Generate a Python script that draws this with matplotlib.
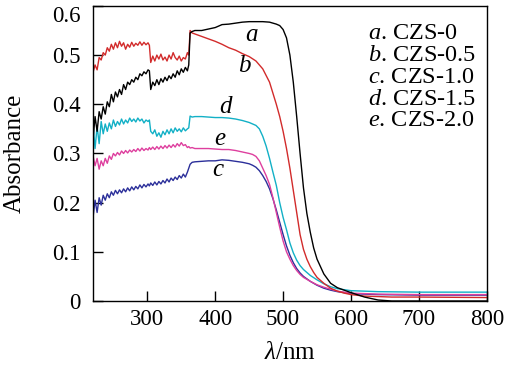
import matplotlib
matplotlib.use("Agg")
import matplotlib.pyplot as plt

plt.rcParams['font.family'] = ['Liberation Serif', 'DejaVu Serif']
plt.rcParams['mathtext.fontset'] = 'custom'
plt.rcParams['mathtext.rm'] = 'Liberation Serif'
plt.rcParams['mathtext.it'] = 'Liberation Serif:italic'

# ---------------- data ----------------
wl_uv = [220, 223, 226, 229, 232, 235, 238, 241, 244, 247, 250, 253, 256, 259, 262, 265, 268, 271,
         274, 277, 280, 283, 286, 289, 292, 295, 298, 301, 303, 305, 308, 311, 314, 317, 320, 323,
         326, 329, 332, 335, 338, 341, 344, 347, 350, 353, 356, 359, 361, 363, 366, 370]

a_uv = [0.330, 0.375, 0.345, 0.385, 0.370, 0.395, 0.380, 0.405, 0.395, 0.420, 0.405, 0.425, 0.415,
        0.430, 0.420, 0.440, 0.430, 0.445, 0.440, 0.450, 0.445, 0.455, 0.450, 0.462, 0.458, 0.466,
        0.462, 0.470, 0.468, 0.430, 0.445, 0.438, 0.450, 0.440, 0.452, 0.445, 0.455, 0.448, 0.458,
        0.452, 0.462, 0.455, 0.468, 0.460, 0.472, 0.465, 0.475, 0.468, 0.480, 0.545, 0.548, 0.550]
b_uv = [0.465, 0.480, 0.470, 0.495, 0.490, 0.505, 0.500, 0.515, 0.508, 0.522, 0.512, 0.525, 0.515,
        0.528, 0.518, 0.525, 0.512, 0.522, 0.516, 0.526, 0.518, 0.524, 0.520, 0.527, 0.520, 0.526,
        0.521, 0.525, 0.520, 0.485, 0.498, 0.488, 0.500, 0.492, 0.502, 0.490, 0.496, 0.488, 0.500,
        0.492, 0.505, 0.495, 0.490, 0.498, 0.488, 0.495, 0.492, 0.505, 0.500, 0.550, 0.545, 0.543]
c_uv = [0.170, 0.205, 0.180, 0.210, 0.195, 0.215, 0.205, 0.218, 0.210, 0.222, 0.215, 0.225, 0.218,
        0.226, 0.220, 0.228, 0.222, 0.230, 0.224, 0.232, 0.226, 0.233, 0.228, 0.236, 0.230, 0.237,
        0.232, 0.238, 0.234, 0.240, 0.235, 0.242, 0.236, 0.243, 0.238, 0.245, 0.240, 0.248, 0.242,
        0.250, 0.245, 0.252, 0.247, 0.255, 0.250, 0.258, 0.252, 0.262, 0.270, 0.278, 0.282, 0.283]
d_uv = [0.360, 0.310, 0.355, 0.320, 0.365, 0.340, 0.360, 0.345, 0.362, 0.350, 0.368, 0.355, 0.365,
        0.358, 0.370, 0.360, 0.368, 0.362, 0.372, 0.365, 0.370, 0.364, 0.372, 0.366, 0.370, 0.362,
        0.368, 0.365, 0.368, 0.345, 0.340, 0.348, 0.335, 0.342, 0.333, 0.345, 0.338, 0.348, 0.340,
        0.350, 0.342, 0.352, 0.345, 0.350, 0.344, 0.352, 0.346, 0.350, 0.352, 0.376, 0.374, 0.375]
e_uv = [0.295, 0.275, 0.290, 0.268, 0.285, 0.275, 0.290, 0.280, 0.295, 0.288, 0.300, 0.295, 0.302,
        0.297, 0.305, 0.300, 0.306, 0.301, 0.307, 0.303, 0.308, 0.304, 0.310, 0.305, 0.311, 0.306,
        0.310, 0.307, 0.312, 0.308, 0.313, 0.308, 0.314, 0.309, 0.315, 0.310, 0.316, 0.311, 0.317,
        0.312, 0.318, 0.313, 0.320, 0.315, 0.322, 0.316, 0.318, 0.312, 0.314, 0.311, 0.312, 0.310]

a_wl = [380, 390, 400, 410, 420, 430, 440, 450, 460, 470, 480, 490, 495, 500, 505, 510, 515, 520,
        525, 530, 535, 540, 545, 550, 560, 570, 580, 590, 600, 620, 640, 660, 700, 800]
a_vis = [0.550, 0.553, 0.556, 0.562, 0.563, 0.565, 0.567, 0.568, 0.568, 0.568, 0.567, 0.563, 0.560,
         0.552, 0.535, 0.500, 0.445, 0.375, 0.300, 0.230, 0.178, 0.140, 0.108, 0.085, 0.055, 0.036,
         0.027, 0.022, 0.017, 0.008, 0.002, 0.000, 0.000, 0.000]

b_wl = [380, 390, 400, 410, 420, 430, 440, 450, 460, 470, 480, 490, 495, 500, 505, 510, 515, 520,
        525, 530, 535, 540, 545, 550, 560, 570, 580, 590, 600, 620, 640, 660, 700, 800]
b_vis = [0.538, 0.533, 0.528, 0.522, 0.515, 0.510, 0.503, 0.497, 0.488, 0.472, 0.445, 0.400, 0.375,
         0.345, 0.310, 0.270, 0.225, 0.180, 0.135, 0.105, 0.085, 0.070, 0.058, 0.048, 0.036, 0.026,
         0.020, 0.016, 0.013, 0.010, 0.009, 0.008, 0.008, 0.007]

c_wl = [380, 390, 400, 410, 420, 430, 440, 450, 455, 460, 465, 470, 475, 480, 485, 490, 495, 500,
        505, 510, 515, 520, 525, 530, 540, 550, 560, 570, 580, 600, 640, 700, 800]
c_vis = [0.284, 0.285, 0.285, 0.287, 0.286, 0.284, 0.282, 0.279, 0.276, 0.272, 0.265, 0.255, 0.243,
         0.228, 0.208, 0.185, 0.160, 0.135, 0.112, 0.093, 0.078, 0.066, 0.057, 0.050, 0.040, 0.032,
         0.026, 0.022, 0.019, 0.015, 0.013, 0.012, 0.012]

d_wl = [380, 390, 400, 410, 420, 430, 440, 450, 460, 465, 470, 475, 480, 485, 490, 495, 500, 505,
        510, 515, 520, 525, 530, 535, 540, 550, 560, 570, 580, 600, 640, 700, 800]
d_vis = [0.375, 0.374, 0.373, 0.373, 0.372, 0.370, 0.367, 0.363, 0.357, 0.350, 0.335, 0.315, 0.290,
         0.262, 0.235, 0.200, 0.170, 0.145, 0.118, 0.098, 0.083, 0.072, 0.064, 0.058, 0.052, 0.043,
         0.035, 0.029, 0.025, 0.021, 0.019, 0.018, 0.018]

e_wl = [380, 390, 400, 410, 420, 430, 440, 450, 455, 460, 465, 470, 475, 480, 485, 490, 495, 500,
        505, 510, 515, 520, 525, 530, 540, 550, 560, 570, 580, 600, 640, 700, 800]
e_vis = [0.310, 0.310, 0.309, 0.308, 0.308, 0.306, 0.303, 0.300, 0.298, 0.294, 0.285, 0.270, 0.255,
         0.237, 0.210, 0.180, 0.150, 0.122, 0.100, 0.085, 0.072, 0.062, 0.054, 0.048, 0.040, 0.033,
         0.028, 0.024, 0.020, 0.016, 0.014, 0.013, 0.013]

series_names = ["a", "b", "c", "d", "e"]
series_labels = ["CZS-0", "CZS-0.5", "CZS-1.0", "CZS-1.5", "CZS-2.0"]
series_colors = ["#000000", "#d22b2b", "#2b2f9a", "#12b0c6", "#de3f9e"]
label_pos = {"a": (454, 0.541), "b": (443, 0.478), "c": (404, 0.267), "d": (417, 0.394), "e": (407, 0.330)}

x_ticks = [300, 400, 500, 600, 700, 800]
y_ticks = [0, 0.1, 0.2, 0.3, 0.4, 0.5, 0.6]
y_tick_labels = ["0", "0.1", "0.2", "0.3", "0.4", "0.5", "0.6"]

# ---------------- plot ----------------
fig = plt.figure(figsize=(5.14, 3.70), dpi=100)
ax = fig.add_axes([0.181, 0.1865, 0.766, 0.7975])

uv = {"a": a_uv, "b": b_uv, "c": c_uv, "d": d_uv, "e": e_uv}
vis_wl = {"a": a_wl, "b": b_wl, "c": c_wl, "d": d_wl, "e": e_wl}
vis = {"a": a_vis, "b": b_vis, "c": c_vis, "d": d_vis, "e": e_vis}

draw_order = ["c", "e", "d", "b", "a"]
for name in draw_order:
    i = series_names.index(name)
    ax.plot(wl_uv + vis_wl[name], uv[name] + vis[name], color=series_colors[i], lw=1.0)
    lx, ly = label_pos[name]
    ax.text(lx, ly, f"${name}$", fontsize=18, ha="center", va="center")

ax.set_xlim(220, 800)
ax.set_ylim(0, 0.6)
ax.set_xticks(x_ticks)
ax.set_yticks(y_ticks)
ax.set_yticklabels(y_tick_labels)
ax.tick_params(direction="in", length=7, width=1.0, labelsize=16.5, top=False, right=False)
ax.tick_params(axis="y", pad=9)
ax.tick_params(axis="x", pad=6)
ax.get_yticklabels()[-1].set_va("top")
for s in ax.spines.values():
    s.set_linewidth(1.0)

ax.set_ylabel("Absorbance", fontsize=18)
ax.yaxis.set_label_coords(-0.17, 0.5)
ax.set_xlabel(r"$\lambda$/nm", fontsize=18)
ax.xaxis.set_label_coords(0.5, -0.14)

# legend-like text block
for k, (name, lab) in enumerate(zip(series_names, series_labels)):
    ax.text(0.698, 0.905 - k * 0.0735, f"${name}$. {lab}", transform=ax.transAxes,
            fontsize=17.5, ha="left", va="center")

fig.savefig("out.png", dpi=100)
